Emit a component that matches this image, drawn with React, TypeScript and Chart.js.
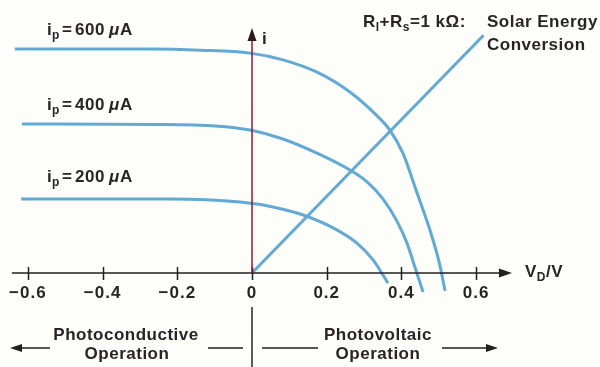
import { useEffect, useRef } from "react";
import { Chart, registerables } from "chart.js";

Chart.register(...registerables);

// ---- data (V in volts, i in µA) ----
const xTicks = [-0.6, -0.4, -0.2, 0, 0.2, 0.4, 0.6];

const v600 = [-0.635, -0.273, -0.139, -0.005, 0.083, 0.174, 0.262, 0.335, 0.369, 0.404, 0.442, 0.477, 0.501, 0.517];
const i600 = [600, 600, 597, 589, 571, 538, 485, 421, 383, 321, 214, 113, 29, -48];

const v400 = [-0.616, -0.25, -0.099, -0.005, 0.083, 0.174, 0.262, 0.308, 0.351, 0.388, 0.415, 0.436, 0.458];
const i400 = [399, 398, 394, 383, 359, 321, 276, 244, 198, 139, 80, 16, -51];

const v200 = [-0.618, -0.22, -0.032, 0.056, 0.129, 0.217, 0.281, 0.324, 0.364];
const i200 = [198, 198, 190, 177, 158, 121, 80, 35, -27];

const loadV = [0, 0.62];
const loadI = [0, 637];

const curveNames = ["600", "400", "200"];

// ---- styling ----
const FONT = '"Liberation Sans", Arial, Helvetica, sans-serif';
const TEXT = "#2a2426";
const BLUE = "#62a9d4";
const X_MIN = -0.6747;
const X_MAX = 0.9317;
const Y_MIN = -251.8;
const Y_MAX = 731.3;

type Part = { t: string; sub?: boolean; italic?: boolean; x?: number };

function drawRich(ctx: CanvasRenderingContext2D, parts: Part[], x: number, y: number, size = 17) {
  let cx = x;
  for (const p of parts) {
    const s = p.sub ? Math.round(size * 0.7) : size;
    ctx.font = `${p.italic ? "italic " : ""}bold ${s}px ${FONT}`;
    const dy = p.sub ? 4 : 0;
    if (p.x !== undefined) cx = p.x;
    ctx.fillText(p.t, cx, y + dy);
    cx += ctx.measureText(p.t).width;
  }
}

function richWidth(ctx: CanvasRenderingContext2D, parts: Part[], size = 17) {
  let w = 0;
  for (const p of parts) {
    const s = p.sub ? Math.round(size * 0.7) : size;
    ctx.font = `${p.italic ? "italic " : ""}bold ${s}px ${FONT}`;
    w += ctx.measureText(p.t).width;
  }
  return w;
}

function arrowHead(ctx: CanvasRenderingContext2D, tx: number, ty: number, dx: number, dy: number, len = 12, half = 4.5) {
  const bx = tx - dx * len;
  const by = ty - dy * len;
  ctx.beginPath();
  ctx.moveTo(tx, ty);
  ctx.lineTo(bx - dy * half, by + dx * half);
  ctx.lineTo(bx + dy * half, by - dx * half);
  ctx.closePath();
  ctx.fill();
}

const decor = {
  id: "decor",
  beforeDraw(chart: any) {
    const { ctx, width, height } = chart;
    ctx.save();
    ctx.fillStyle = "#fdfdfa";
    ctx.fillRect(0, 0, width, height);
    ctx.restore();
    (ctx as any).letterSpacing = "1px";
  },
  afterDatasetsDraw(chart: any) {
    const { ctx } = chart;
    const xs = chart.scales.x;
    const ys = chart.scales.y;
    const x0 = xs.getPixelForValue(0);
    const y0 = ys.getPixelForValue(0);
    ctx.save();
    (ctx as any).letterSpacing = "0px";

    // horizontal axis
    ctx.strokeStyle = "#231f20";
    ctx.fillStyle = "#231f20";
    ctx.lineWidth = 1.5;
    const xl = xs.getPixelForValue(-0.643);
    const xr = xs.getPixelForValue(0.696);
    ctx.beginPath();
    ctx.moveTo(xl, y0);
    ctx.lineTo(xr - 8, y0);
    ctx.stroke();
    arrowHead(ctx, xr, y0, 1, 0, 13, 4.5);
    for (const v of xTicks) {
      const px = Math.round(xs.getPixelForValue(v)) + 0.5;
      ctx.beginPath();
      ctx.moveTo(px, y0 - 6);
      ctx.lineTo(px, y0 + 7);
      ctx.stroke();
    }

    // vertical axis (maroon)
    ctx.strokeStyle = "#8a1c3c";
    ctx.fillStyle = "#2a1a1e";
    const yt = ys.getPixelForValue(656);
    ctx.beginPath();
    ctx.moveTo(x0, y0);
    ctx.lineTo(x0, yt + 8);
    ctx.stroke();
    arrowHead(ctx, x0, yt, 0, -1, 13, 4.5);

    // lower divider line
    ctx.strokeStyle = "#1f2b25";
    ctx.beginPath();
    ctx.moveTo(x0, ys.getPixelForValue(-91));
    ctx.lineTo(x0, chart.height);
    ctx.stroke();

    // operation arrows
    ctx.strokeStyle = "#231f20";
    ctx.fillStyle = "#231f20";
    const ay = 348;
    ctx.beginPath();
    ctx.moveTo(50, ay); ctx.lineTo(18, ay);
    ctx.moveTo(208, ay); ctx.lineTo(243, ay);
    ctx.moveTo(262, ay); ctx.lineTo(318, ay);
    ctx.moveTo(442, ay); ctx.lineTo(490, ay);
    ctx.stroke();
    arrowHead(ctx, 10, ay, -1, 0, 12, 4);
    arrowHead(ctx, 498, ay, 1, 0, 12, 4);

    // text
    ctx.fillStyle = TEXT;
    ctx.textBaseline = "alphabetic";
    ctx.textAlign = "left";
    (ctx as any).letterSpacing = "0.5px";
    const labBase = [35, 110, 182];
    curveNames.forEach((n, k) => {
      drawRich(
        ctx,
        [
          { t: "i", x: 47 },
          { t: "p", sub: true, x: 52 },
          { t: "=", x: 62 },
          { t: n, x: 75 },
          { t: "μ", italic: true, x: 109 },
          { t: "A", x: 120 },
        ],
        47,
        labBase[k]
      );
    });
    drawRich(ctx, [{ t: "i" }], x0 + 10, 44);
    drawRich(ctx, [{ t: "V" }, { t: "D", sub: true }, { t: "/V" }], 525, 277);
    drawRich(ctx, [{ t: "R" }, { t: "l", sub: true }, { t: "+R" }, { t: "s", sub: true }, { t: "=1 kΩ:" }], 363, 27);
    drawRich(ctx, [{ t: "Solar Energy" }], 487, 27);
    drawRich(ctx, [{ t: "Conversion" }], 487, 50);

    const center = (txt: string, cx: number, by: number) => {
      const w = richWidth(ctx, [{ t: txt }]);
      drawRich(ctx, [{ t: txt }], cx - w / 2, by);
    };
    center("Photoconductive", 126, 340);
    center("Operation", 127, 359);
    center("Photovoltaic", 378, 340);
    center("Operation", 378, 359);
    ctx.restore();
  },
};

function toPts(vs: number[], is: number[]) {
  return vs.map((v, k) => ({ x: v, y: is[k] }));
}

export default function App() {
  const ref = useRef<HTMLCanvasElement | null>(null);
  useEffect(() => {
    document.body.style.margin = "0";
    document.body.style.background = "#fdfdfa";
    const canvas = ref.current;
    if (!canvas) return;
    const curveStyle = {
      borderColor: BLUE,
      borderWidth: 3,
      pointRadius: 0,
      fill: false,
      cubicInterpolationMode: "monotone" as const,
      clip: false as any,
    };
    const chart = new Chart(canvas, {
      type: "line",
      data: {
        datasets: [
          { ...curveStyle, label: "600", data: toPts(v600, i600) },
          { ...curveStyle, label: "400", data: toPts(v400, i400) },
          { ...curveStyle, label: "200", data: toPts(v200, i200) },
          { ...curveStyle, label: "load", data: toPts(loadV, loadI), cubicInterpolationMode: "default", tension: 0 },
        ],
      },
      options: {
        animation: false,
        responsive: false,
        events: [],
        layout: { padding: 0 },
        plugins: { legend: { display: false }, tooltip: { enabled: false } },
        scales: {
          x: {
            type: "linear",
            min: X_MIN,
            max: X_MAX,
            position: { y: 0 } as any,
            grid: { display: false, drawTicks: false },
            border: { display: false },
            afterBuildTicks: (s: any) => {
              s.ticks = xTicks.map((v) => ({ value: v }));
            },
            ticks: {
              autoSkip: false,
              maxRotation: 0,
              padding: 10,
              color: TEXT,
              font: { family: FONT, size: 17, weight: "bold" },
              callback: (v: any) => {
                const n = Number(v);
                if (Math.abs(n) < 1e-9) return "0";
                const s = Math.abs(n).toFixed(1);
                return n < 0 ? "\u2212" + s : s;
              },
            },
          },
          y: { type: "linear", min: Y_MIN, max: Y_MAX, display: false },
        },
      },
      plugins: [decor],
    });
    return () => chart.destroy();
  }, []);
  return (
    <div style={{ width: 600, height: 367, background: "#fdfdfa" }}>
      <canvas ref={ref} width={600} height={367} style={{ display: "block" }} />
    </div>
  );
}
